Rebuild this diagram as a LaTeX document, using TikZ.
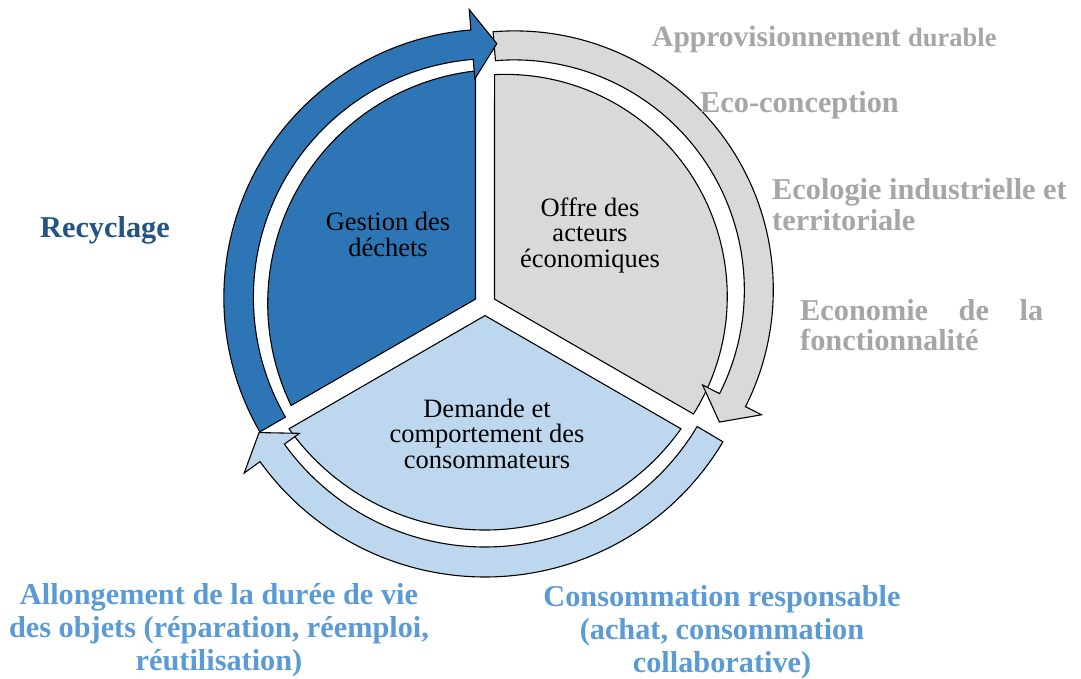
\documentclass[tikz,border=0pt]{standalone}
\usepackage{fontspec}
\setmainfont{Liberation Serif}
\usetikzlibrary{calc}
\definecolor{dblue}{HTML}{2E75B6}
\definecolor{lgray}{HTML}{D9D9D9}
\definecolor{lblue}{HTML}{BDD7EE}
\definecolor{rtext}{RGB}{34,84,132}
\definecolor{gtext}{HTML}{A6A6A6}
\definecolor{btext}{HTML}{5B9BD5}
\begin{document}
\begin{tikzpicture}[x=1pt,y=1pt]
\tikzset{
  shapeline/.style={draw=black, line width=1.1pt, line join=miter},
  innertext/.style={font=\fontsize{26.5}{25.5}\selectfont, align=center, inner sep=0pt, text=black},
  lab/.style={font=\fontsize{30.3}{33}\selectfont\bfseries, inner sep=0pt}
}
\useasboundingbox (0,0) rectangle (1081,-679);
\fill[white] (0,0) rectangle (1081,-679);
% centres of the arcs
\coordinate (Cd) at (492.4,-297.6);
\coordinate (Cg) at (514.3,-289.9);
\coordinate (Cl) at (485,-300);
% sectors
\path[shapeline, fill=dblue] (475.5,-299.1) -- (475.5,-70.9) arc[start angle=96.43, end angle=205.86, radius=234] -- cycle;
\path[shapeline, fill=lgray] (494.5,-299.1) -- (693.5,-414) arc[start angle=-32, end angle=92.76, radius=222] -- cycle;
\path[shapeline, fill=lblue] (485,-315.6) -- (289,-428.8) arc[start angle=215.38, end angle=324.62, radius=240.4] -- cycle;
% light blue arrow
\path[shapeline, fill=lblue] ([shift={(-30.8:277)}]Cl) arc[start angle=-30.8, end angle=-144.3, radius=277]
  -- ([shift={(-144.3:296.5)}]Cl) -- ([shift={(-149.6:262)}]Cl) -- ([shift={(-144.3:228.5)}]Cl)
  -- ([shift={(-144.3:247)}]Cl) arc[start angle=-144.3, end angle=-30.8, radius=247] -- cycle;
% gray arrow
\path[shapeline, fill=lgray] ([shift={(94.7:259)}]Cg) arc[start angle=94.7, end angle=-26.8, radius=259]
  -- ([shift={(-26.8:277)}]Cg) -- ([shift={(-32.8:244)}]Cg) -- ([shift={(-26.8:211)}]Cg)
  -- ([shift={(-26.8:230)}]Cg) arc[start angle=-26.8, end angle=94.7, radius=230] -- cycle;
% dark blue arrow
\path[shapeline, fill=dblue] ([shift={(210:268.5)}]Cd) arc[start angle=210, end angle=94.6, radius=268.5]
  -- ([shift={(94.6:289)}]Cd) -- ([shift={(89:254)}]Cd) -- ([shift={(94.6:219.5)}]Cd)
  -- ([shift={(94.6:239)}]Cd) arc[start angle=94.6, end angle=210, radius=239] -- cycle;
% inner texts (anchor = baseline of last line)
\node[innertext, anchor=base] (gest) at (388,-256) {Gestion des\\déchets};
\node[innertext, anchor=base] (offre) at (590,-267) {Offre des\\acteurs\\économiques};
\node[innertext, anchor=base] (dem) at (487,-468) {Demande et\\comportement des\\consommateurs};
% outer labels
\node[lab, text=gtext, anchor=base west, font=\fontsize{29.5}{32}\selectfont\bfseries] (appro) at (652,-47) {Approvisionnement {\fontsize{26.5}{26}\selectfont durable}};
\node[lab, text=gtext, anchor=base west] (eco) at (700,-113) {Eco-conception};
\node[lab, text=gtext, anchor=base west, align=left, font=\fontsize{30.3}{31}\selectfont\bfseries] (ecol) at (772,-230) {Ecologie industrielle et\\territoriale};
\node[lab, text=gtext, anchor=base west, align=left, font=\fontsize{30.3}{30}\selectfont\bfseries] (econ) at (800,-350) {\hbox to 243pt{Economie\hfill de\hfill la}\\fonctionnalité};
\node[lab, text=rtext, anchor=base west] (rec) at (40,-237) {Recyclage};
\node[lab, text=btext, anchor=base, align=center] (allong) at (219,-670) {Allongement de la durée de vie\\des objets (réparation, réemploi,\\réutilisation)};
\node[lab, text=btext, anchor=base, align=center] (conso) at (722,-672) {Consommation responsable\\(achat, consommation\\collaborative)};
\end{tikzpicture}
\end{document}
